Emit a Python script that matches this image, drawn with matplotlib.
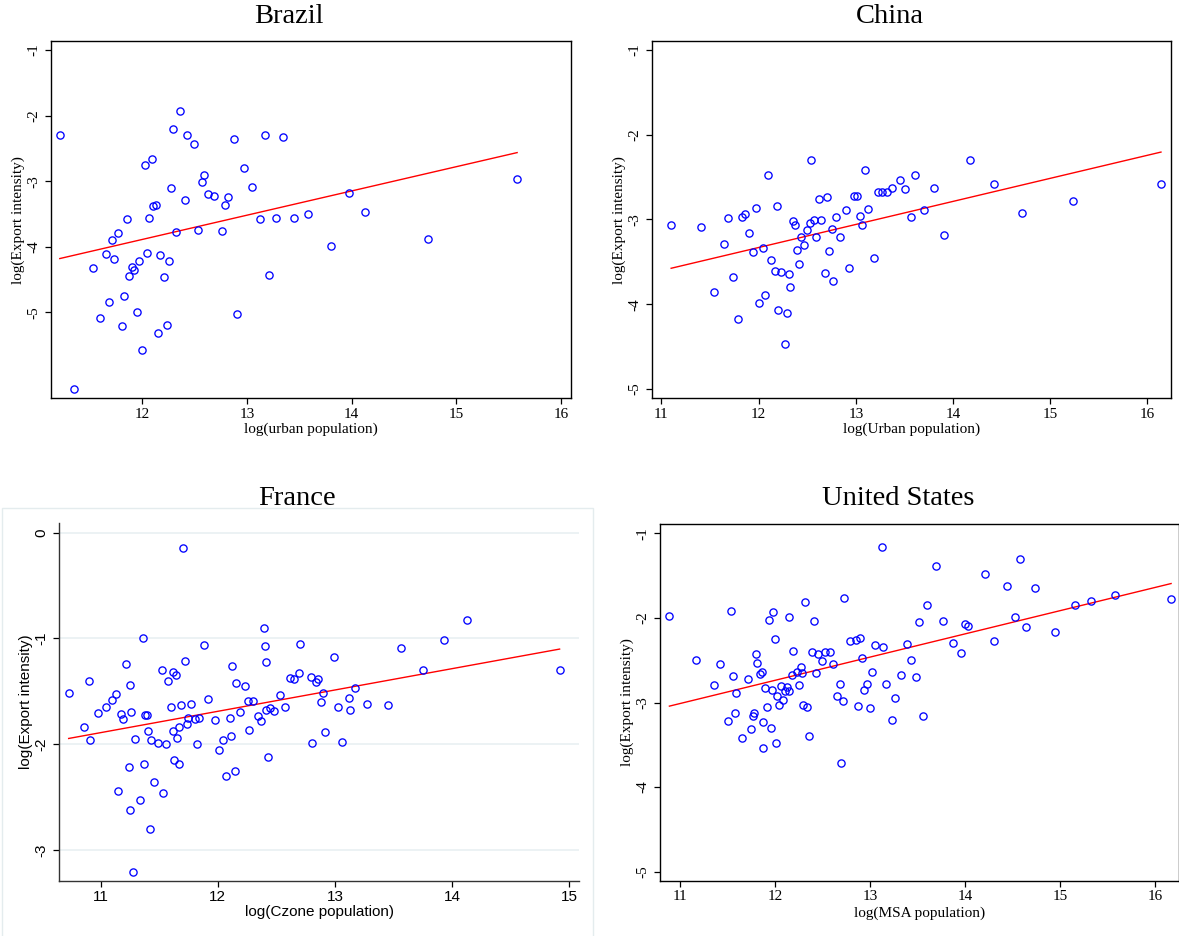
import numpy as np
import matplotlib
matplotlib.use("Agg")
import matplotlib.pyplot as plt
from matplotlib.patches import Rectangle

plt.rcParams['axes.unicode_minus'] = False

# ---- data ----
brazil_x = [11.21, 11.35, 11.53, 11.59, 11.65, 11.68, 11.71, 11.73, 11.77, 11.80,
            11.82, 11.85, 11.87, 11.90, 11.92, 11.95, 11.97, 12.00, 12.02, 12.04,
            12.06, 12.09, 12.10, 12.13, 12.15, 12.17, 12.21, 12.23, 12.25, 12.27,
            12.29, 12.32, 12.36, 12.41, 12.43, 12.49, 12.53, 12.57, 12.59, 12.63,
            12.68, 12.76, 12.79, 12.82, 12.87, 12.90, 12.97, 13.05, 13.12, 13.17,
            13.21, 13.28, 13.34, 13.45, 13.58, 13.80, 13.97, 14.13, 14.73, 15.58]
brazil_y = [-2.30, -6.17, -4.32, -5.09, -4.11, -4.84, -3.90, -4.19, -3.79, -5.21,
            -4.75, -3.57, -4.45, -4.31, -4.36, -5.00, -4.21, -5.57, -2.76, -4.09,
            -3.56, -2.66, -3.38, -3.36, -5.31, -4.12, -4.46, -5.19, -4.22, -3.11,
            -2.21, -3.78, -1.93, -3.28, -2.30, -2.44, -3.75, -3.01, -2.90, -3.20,
            -3.22, -3.76, -3.37, -3.24, -2.35, -5.02, -2.80, -3.09, -3.58, -2.29,
            -4.43, -3.56, -2.33, -3.56, -3.50, -3.99, -3.18, -3.47, -3.88, -2.97]
brazil_fit = (-8.323, 0.3696)   # intercept, slope

china_x = [11.10, 11.41, 11.54, 11.64, 11.69, 11.74, 11.79, 11.83, 11.86, 11.90,
           11.94, 11.97, 12.00, 12.04, 12.07, 12.10, 12.13, 12.17, 12.19, 12.20,
           12.23, 12.27, 12.29, 12.31, 12.32, 12.35, 12.37, 12.39, 12.42, 12.44,
           12.47, 12.50, 12.53, 12.54, 12.57, 12.59, 12.62, 12.64, 12.68, 12.70,
           12.72, 12.75, 12.77, 12.80, 12.84, 12.90, 12.93, 12.98, 13.01, 13.04,
           13.06, 13.09, 13.13, 13.19, 13.23, 13.27, 13.32, 13.37, 13.45, 13.51,
           13.57, 13.61, 13.70, 13.80, 13.91, 14.17, 14.42, 14.71, 15.23, 16.14]
china_y = [-3.07, -3.09, -3.86, -3.29, -2.98, -3.68, -4.17, -2.97, -2.93, -3.16,
           -3.38, -2.86, -3.99, -3.34, -3.89, -2.47, -3.48, -3.61, -2.84, -4.07,
           -3.62, -4.47, -4.10, -3.64, -3.80, -3.02, -3.07, -3.36, -3.53, -3.21,
           -3.30, -3.12, -3.04, -2.30, -3.01, -3.21, -2.76, -3.01, -3.63, -2.73,
           -3.37, -3.11, -3.73, -2.97, -3.21, -2.89, -3.57, -2.72, -2.72, -2.96,
           -3.07, -2.42, -2.88, -3.45, -2.68, -2.68, -2.68, -2.63, -2.54, -2.64,
           -2.97, -2.48, -2.89, -2.63, -3.18, -2.30, -2.58, -2.92, -2.78, -2.58]
china_fit = (-6.595, 0.272)

france_x = [10.727, 10.862, 10.897, 10.910, 10.981, 11.042, 11.100, 11.128, 11.151, 11.177,
            11.189, 11.215, 11.238, 11.250, 11.254, 11.263, 11.276, 11.295, 11.340, 11.360,
            11.372, 11.379, 11.392, 11.408, 11.417, 11.430, 11.459, 11.491, 11.520, 11.530,
            11.555, 11.575, 11.600, 11.616, 11.620, 11.626, 11.639, 11.655, 11.668, 11.668,
            11.684, 11.703, 11.722, 11.738, 11.745, 11.774, 11.806, 11.825, 11.841, 11.880,
            11.912, 11.979, 12.011, 12.043, 12.072, 12.101, 12.114, 12.120, 12.143, 12.159,
            12.191, 12.230, 12.258, 12.265, 12.300, 12.342, 12.368, 12.390, 12.406, 12.409,
            12.412, 12.425, 12.445, 12.483, 12.531, 12.573, 12.618, 12.647, 12.689, 12.698,
            12.791, 12.801, 12.840, 12.859, 12.881, 12.897, 12.913, 12.990, 13.029, 13.064,
            13.116, 13.132, 13.167, 13.270, 13.449, 13.565, 13.748, 13.928, 14.127, 14.917]
france_y = [-1.516, -1.841, -1.399, -1.957, -1.708, -1.645, -1.582, -1.529, -2.443, -1.718,
            -1.762, -1.245, -2.212, -1.443, -2.622, -1.696, -3.205, -1.954, -2.531, -0.996,
            -2.184, -1.724, -1.727, -1.872, -2.802, -1.960, -2.357, -1.985, -1.298, -2.458,
            -2.001, -1.399, -1.645, -1.878, -1.317, -2.149, -1.346, -1.945, -1.834, -2.190,
            -1.629, -0.142, -1.217, -1.809, -1.752, -1.617, -1.759, -2.001, -1.749, -1.062,
            -1.573, -1.771, -2.058, -1.960, -2.298, -1.752, -1.919, -1.257, -2.250, -1.418,
            -1.696, -1.447, -1.592, -1.866, -1.592, -1.733, -1.784, -0.901, -1.075, -1.220,
            -1.673, -2.121, -1.658, -1.683, -1.538, -1.651, -1.374, -1.384, -1.330, -1.053,
            -1.365, -1.992, -1.415, -1.380, -1.601, -1.516, -1.881, -1.176, -1.651, -1.982,
            -1.563, -1.677, -1.472, -1.623, -1.633, -1.087, -1.302, -1.018, -0.823, -1.302]
france_fit = (-4.109, 0.2017)

us_x = [10.889, 11.166, 11.360, 11.419, 11.510, 11.542, 11.558, 11.581, 11.593, 11.653,
        11.720, 11.752, 11.763, 11.783, 11.795, 11.815, 11.843, 11.858, 11.870, 11.878,
        11.894, 11.914, 11.937, 11.957, 11.969, 11.977, 12.000, 12.008, 12.021, 12.044,
        12.060, 12.088, 12.104, 12.123, 12.143, 12.151, 12.179, 12.191, 12.230, 12.254,
        12.270, 12.282, 12.297, 12.317, 12.337, 12.357, 12.388, 12.412, 12.428, 12.452,
        12.495, 12.523, 12.582, 12.606, 12.650, 12.681, 12.697, 12.717, 12.729, 12.792,
        12.855, 12.871, 12.895, 12.915, 12.938, 12.966, 13.002, 13.021, 13.053, 13.124,
        13.140, 13.164, 13.231, 13.267, 13.326, 13.389, 13.425, 13.484, 13.512, 13.559,
        13.599, 13.694, 13.765, 13.876, 13.955, 13.998, 14.034, 14.204, 14.299, 14.438,
        14.525, 14.572, 14.635, 14.730, 14.948, 15.153, 15.328, 15.581, 16.166]
us_y = [-1.972, -2.500, -2.791, -2.539, -3.217, -1.913, -2.681, -3.126, -2.882, -3.421,
        -2.717, -3.319, -3.165, -3.130, -2.429, -2.535, -2.665, -2.634, -3.228, -3.535,
        -2.827, -3.059, -2.024, -3.299, -2.850, -1.929, -2.244, -3.480, -2.921, -3.024,
        -2.807, -2.965, -2.862, -2.815, -1.988, -2.866, -2.677, -2.394, -2.642, -2.799,
        -2.583, -2.646, -3.031, -1.807, -3.059, -3.394, -2.402, -2.039, -2.646, -2.429,
        -2.504, -2.398, -2.398, -2.539, -2.929, -2.780, -3.720, -2.988, -1.764, -2.268,
        -2.264, -3.043, -2.236, -2.476, -2.858, -2.776, -3.067, -2.638, -2.315, -1.161,
        -2.343, -2.787, -3.205, -2.941, -2.677, -2.303, -2.496, -2.697, -2.051, -3.154,
        -1.850, -1.386, -2.031, -2.291, -2.417, -2.071, -2.098, -1.476, -2.268, -1.626,
        -1.992, -1.303, -2.102, -1.642, -2.169, -1.850, -1.795, -1.732, -1.772]
us_fit = (-6.033, 0.2746)

W, H = 1179, 936


def px_axes(fig, left, right, top, bottom):
    return fig.add_axes([left / W, 1 - bottom / H, (right - left) / W, (bottom - top) / H])


def draw_panel(ax, x, y, fit, title, xlabel, xticks, yticks, xlim, ylim,
               family, title_x, title_gap, xlab_gap, box=True):
    ax.plot(x, y, 'o', mfc='none', mec='#0000ff', ms=5.2, mew=0.95, zorder=3)
    xs = np.array([min(x), max(x)])
    ax.plot(xs, fit[0] + fit[1] * xs, color='#ff0000', lw=1.0, zorder=2)
    ax.set_xlim(*xlim)
    ax.set_ylim(*ylim)
    ax.set_xticks(xticks)
    ax.set_yticks(yticks)
    ax.set_xticklabels([str(t) for t in xticks], family=family, fontsize=11)
    ax.set_yticklabels([str(t) for t in yticks], family=family, fontsize=11,
                       rotation=90, va='center')
    ax.tick_params(direction='out', length=4.2, width=0.9, pad=2.5, color='black')
    ax.tick_params(axis='y', pad=3.5)

    bb = ax.get_position()
    w_px, h_px = bb.width * W, bb.height * H
    ax.set_title(title, family='Liberation Serif', fontsize=20.5,
                 x=title_x, y=1 + title_gap / h_px, pad=0, va='baseline')
    ax.set_xlabel(xlabel, family=family, fontsize=11)
    ax.set_ylabel('log(Export intensity)', family=family, fontsize=11)
    ax.xaxis.set_label_coords(0.5, -xlab_gap / h_px)
    ax.xaxis.label.set_va('center')
    ax.yaxis.set_label_coords(-33 / w_px, 0.5)
    ax.yaxis.label.set_va('center')
    for s in ax.spines.values():
        s.set_linewidth(1.0)
        s.set_color('black')
    if not box:
        ax.spines['top'].set_visible(False)
        ax.spines['right'].set_visible(False)


fig = plt.figure(figsize=(W / 100, H / 100), dpi=100)

# light frame around the France panel (runs off the bottom edge)
fig.patches.append(Rectangle((1.7 / W, -0.02), (593.3 - 1.7) / W, 1.02 - 508.3 / H,
                             transform=fig.transFigure, fill=False,
                             edgecolor='#e4ecee', lw=1.0))

ax1 = px_axes(fig, 51.0, 570.5, 41.3, 398.3)
draw_panel(ax1, brazil_x, brazil_y, brazil_fit, 'Brazil', 'log(urban population)',
           [12, 13, 14, 15, 16], [-1, -2, -3, -4, -5], (11.126, 16.09), (-6.31, -0.868),
           'Liberation Serif', 0.457, 18.6, 31)

ax2 = px_axes(fig, 652.0, 1170.7, 41.3, 398.3)
draw_panel(ax2, china_x, china_y, china_fit, 'China', 'log(Urban population)',
           [11, 12, 13, 14, 15, 16], [-1, -2, -3, -4, -5], (10.903, 16.24), (-5.11, -0.898),
           'Liberation Serif', 0.458, 18.6, 31)

ax3 = px_axes(fig, 59.3, 578.7, 523.3, 881.0)
draw_panel(ax3, france_x, france_y, france_fit, 'France', 'log(Czone population)',
           [11, 12, 13, 14, 15], [0, -1, -2, -3], (10.647, 15.08), (-3.293, 0.089),
           'Liberation Sans', 0.457, 18.0, 30.7, box=False)
ax3.grid(axis='y', color='#eaf1f3', lw=1.3)
ax3.set_axisbelow(True)
for s in ax3.spines.values():
    s.set_color('#333333')

ax4 = px_axes(fig, 660.0, 1178.6, 524.0, 881.0)
draw_panel(ax4, us_x, us_y, us_fit, 'United States', 'log(MSA population)',
           [11, 12, 13, 14, 15, 16], [-1, -2, -3, -4, -5], (10.79, 16.245), (-5.11, -0.89),
           'Liberation Serif', 0.459, 18.7, 32.5)

fig.savefig('out.png', dpi=100)
